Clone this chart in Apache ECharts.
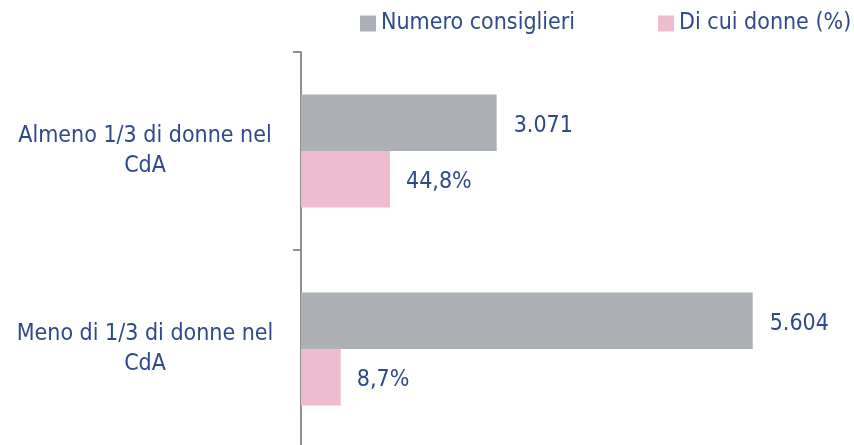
<!DOCTYPE html>
<html>
<head>
<meta charset="utf-8">
<script src="https://cdn.jsdelivr.net/npm/echarts@6/dist/echarts.min.js"></script>
<style>
  html, body { margin: 0; padding: 0; background: #fff; overflow: hidden; }
  #chart { width: 854px; height: 460px; }
</style>
</head>
<body>
<div id="chart"></div>
<script>
const categories = ['Almeno 1/3 di donne nel\nCdA', 'Meno di 1/3 di donne nel\nCdA']
const seriesNames = ['Numero consiglieri', 'Di cui donne (%)']
const consiglieri = [3071, 5604]
const donnePct = [44.8, 8.7]

const FONT = "'Liberation Sans Narrow', 'DejaVu Sans Condensed', sans-serif"
const TEXT = '#2e4a8a'
const GRAY = '#adb0b5'
const PINK = '#eebccf'

const fmtThousands = v => String(v).replace(/\B(?=(\d{3})+(?!\d))/g, '.')
const fmtPct = v => String(v).replace('.', ',') + '%'

// chart is a bit taller than the window so the bottom axis tick falls off-screen
const chart = echarts.init(document.getElementById('chart'))

chart.setOption({
  animation: false,
  textStyle: { fontFamily: FONT },
  legend: {
    left: 355,
    top: 7,
    width: 520,
    itemWidth: 16,
    itemHeight: 16,
    itemGap: 83,
    icon: 'rect',
    textStyle: { color: TEXT, fontSize: 23, fontFamily: FONT },
    data: seriesNames
  },
  grid: { left: 301, right: 53, top: 52, height: 396, containLabel: false },
  xAxis: [
    { type: 'value', min: 1135, max: 6082, show: false },
    { type: 'value', min: -20.4, max: 345.7, startValue: -20.4, show: false }
  ],
  yAxis: {
    type: 'category',
    inverse: true,
    data: categories,
    axisLine: { onZero: false, lineStyle: { color: '#8f8f8f', width: 2 } },
    axisTick: { show: true, length: 8, lineStyle: { color: '#8f8f8f', width: 2 } },
    axisLabel: {
      color: TEXT,
      fontSize: 23,
      fontFamily: FONT,
      lineHeight: 30,
      align: 'center',
      margin: 156
    }
  },
  series: [
    {
      name: seriesNames[0],
      type: 'bar',
      xAxisIndex: 0,
      data: consiglieri,
      barGap: '0%',
      barCategoryGap: '43%',
      itemStyle: { color: GRAY },
      label: {
        show: true, position: 'right', distance: 17, offset: [0, 3],
        color: TEXT, fontSize: 23, fontFamily: FONT,
        formatter: p => fmtThousands(p.value)
      }
    },
    {
      name: seriesNames[1],
      type: 'bar',
      xAxisIndex: 1,
      data: donnePct,
      barGap: '0%',
      barCategoryGap: '43%',
      itemStyle: { color: PINK },
      label: {
        show: true, position: 'right', distance: 16, offset: [0, 3],
        color: TEXT, fontSize: 23, fontFamily: FONT,
        formatter: p => fmtPct(p.value)
      }
    }
  ]
})
</script>
</body>
</html>
